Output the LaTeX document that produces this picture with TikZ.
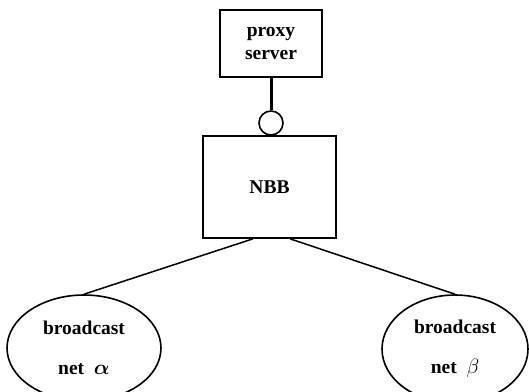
\documentclass[tikz,border=0pt]{standalone}
\usepackage{amsmath}
\usepackage{bm}
\usepackage{fontspec}
\setmainfont{Liberation Serif}
\usetikzlibrary{shapes.geometric}
\begin{document}
\begin{tikzpicture}[x=1pt,y=-1pt,
  every node/.style={font=\fontsize{19.5}{23}\selectfont\bfseries},
  boxnode/.style={draw,line width=1.6pt,rectangle,inner sep=0pt,align=center},
  netnode/.style={draw,line width=1.6pt,ellipse,inner sep=0pt,align=center,
    font=\fontsize{19.5}{40}\selectfont\bfseries},
  link/.style={line width=1.5pt}]
\useasboundingbox (0,0) rectangle (529,391);

\node[boxnode,minimum width=102pt,minimum height=67pt] (proxy) at (271,43.5) {proxy\\server};
\node[boxnode,minimum width=133pt,minimum height=102pt] (nbb) at (269.5,187) {NBB};
\node[draw,circle,line width=1.6pt,minimum size=24pt,inner sep=0pt] (port) at (271,123) {};
\node[netnode,minimum width=154pt,minimum height=106pt] (neta) at (84,348) {broadcast\\net~~$\bm{\alpha}$};
\node[netnode,minimum width=146pt,minimum height=108pt] (netb) at (455,349) {broadcast\\net~~$\beta$};

\draw[line width=3pt] (proxy.south) -- (port.north);
\draw[link] ([xshift=-16.5pt]nbb.south) -- (neta.north);
\draw[link] ([xshift=20.5pt]nbb.south) -- (netb.north);
\end{tikzpicture}
\end{document}
